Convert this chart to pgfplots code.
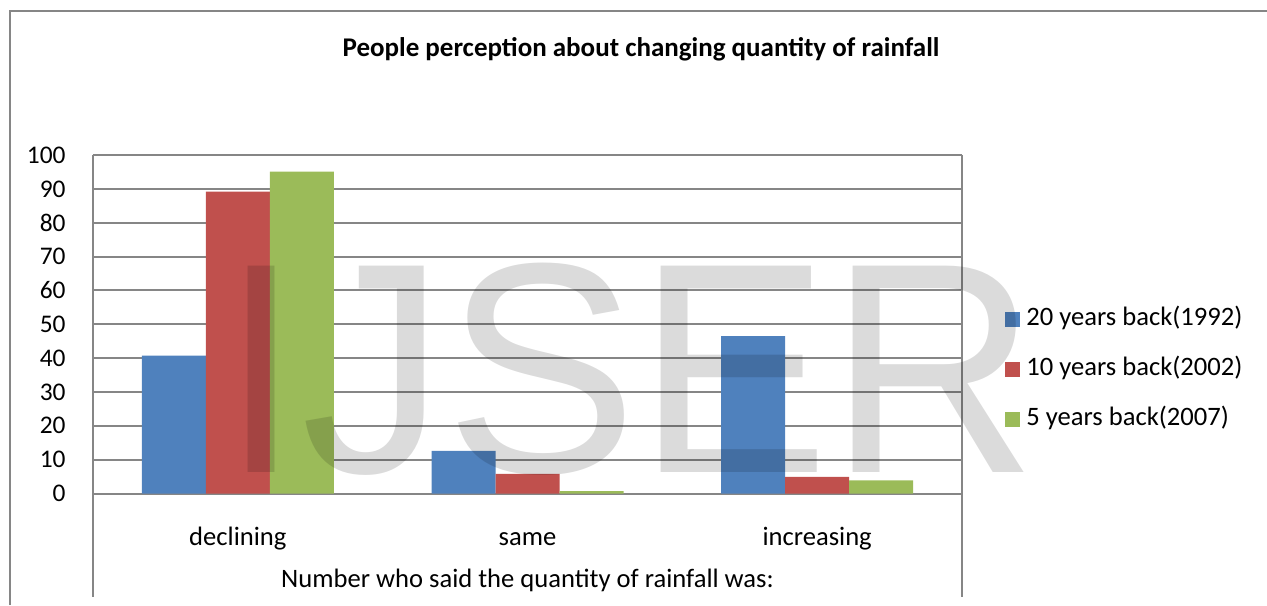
\documentclass[border=0pt]{standalone}
\usepackage{pgfplots}
\pgfplotsset{compat=1.18}
\usepackage{fontspec}
\setmainfont{Carlito}
\newfontfamily\wmfont{Liberation Sans}
\definecolor{xblue}{HTML}{4F81BD}
\definecolor{xred}{HTML}{C0504D}
\definecolor{xgreen}{HTML}{9BBB59}
\definecolor{xgrid}{HTML}{868686}
\newcommand{\PX}[2]{({#1*0.5pt},{(605-#2)*0.5pt})}
\begin{document}
\begin{tikzpicture}
\path[use as bounding box] (0,0) rectangle (633.5pt,302.5pt);
% outer chart border
\draw[xgrid, line width=1pt] \PX{10}{605} -- \PX{10}{11} -- \PX{1267}{11};
% plot area side lines
\draw[xgrid, line width=1pt] \PX{93}{155} -- \PX{93}{597};
\draw[xgrid, line width=1pt] \PX{962}{155} -- \PX{962}{597};
\node[anchor=base, font=\fontsize{13.5}{16}\selectfont\bfseries, inner sep=0pt] at \PX{641}{57} {People perception about changing quantity of rainfall};
\begin{axis}[
  at={(46.5pt,55.75pt)}, anchor=south west,
  scale only axis, width=434.5pt, height=169.25pt,
  xmin=-0.5, xmax=2.5, ymin=0, ymax=100,
  ytick={0,10,...,100}, xtick={0,1,2},
  xticklabels={declining,same,increasing},
  axis line style={draw=none},
  tick style={draw=none},
  ymajorgrids, grid style={draw=xgrid, line width=1pt},
  ybar, bar width=32pt,
  /pgf/number format/assume math mode=true,
  yticklabel style={inner sep=0pt, anchor=east, xshift=-13.5pt, font=\fontsize{12.7}{15}\selectfont},
  xticklabel style={inner sep=0pt, anchor=base, yshift=-21.75pt, font=\fontsize{13.3}{16}\selectfont},
  xlabel={Number who said the quantity of rainfall was:},
  xlabel style={at={(axis description cs:0.5,0)}, anchor=base, inner sep=0pt, yshift=-46.9pt, font=\fontsize{13.3}{16}\selectfont},
  legend cell align=left,
  legend image code/.code={\fill[#1] (0pt,-3.75pt) rectangle (7.5pt,3.75pt);},
  legend style={draw=none, fill=none, at={(1.0495,0.3678)}, anchor=west, inner sep=0pt, column sep=3pt,
    font=\fontsize{13.3}{16}\selectfont,
    nodes={text height=9.5pt, text depth=3pt, inner sep=0pt}, row sep=12.5pt},
]
\addplot[fill=xblue, draw=none, bar shift=-32pt] coordinates {(0,40.7) (1,12.6) (2,46.5)};
\addplot[fill=xred, draw=none, bar shift=0pt] coordinates {(0,89.2) (1,5.8) (2,4.9)};
\addplot[fill=xgreen, draw=none, bar shift=32pt] coordinates {(0,95.1) (1,0.7) (2,3.9)};
\legend{20 years back(1992),10 years back(2002),5 years back(2007)}
\end{axis}
\node[anchor=base west, inner sep=0pt, xscale=0.96, text=black, text opacity=0.14, font=\fontsize{150}{150}\selectfont\wmfont] at \PX{221}{472.7} {IJSER};
\end{tikzpicture}
\end{document}
